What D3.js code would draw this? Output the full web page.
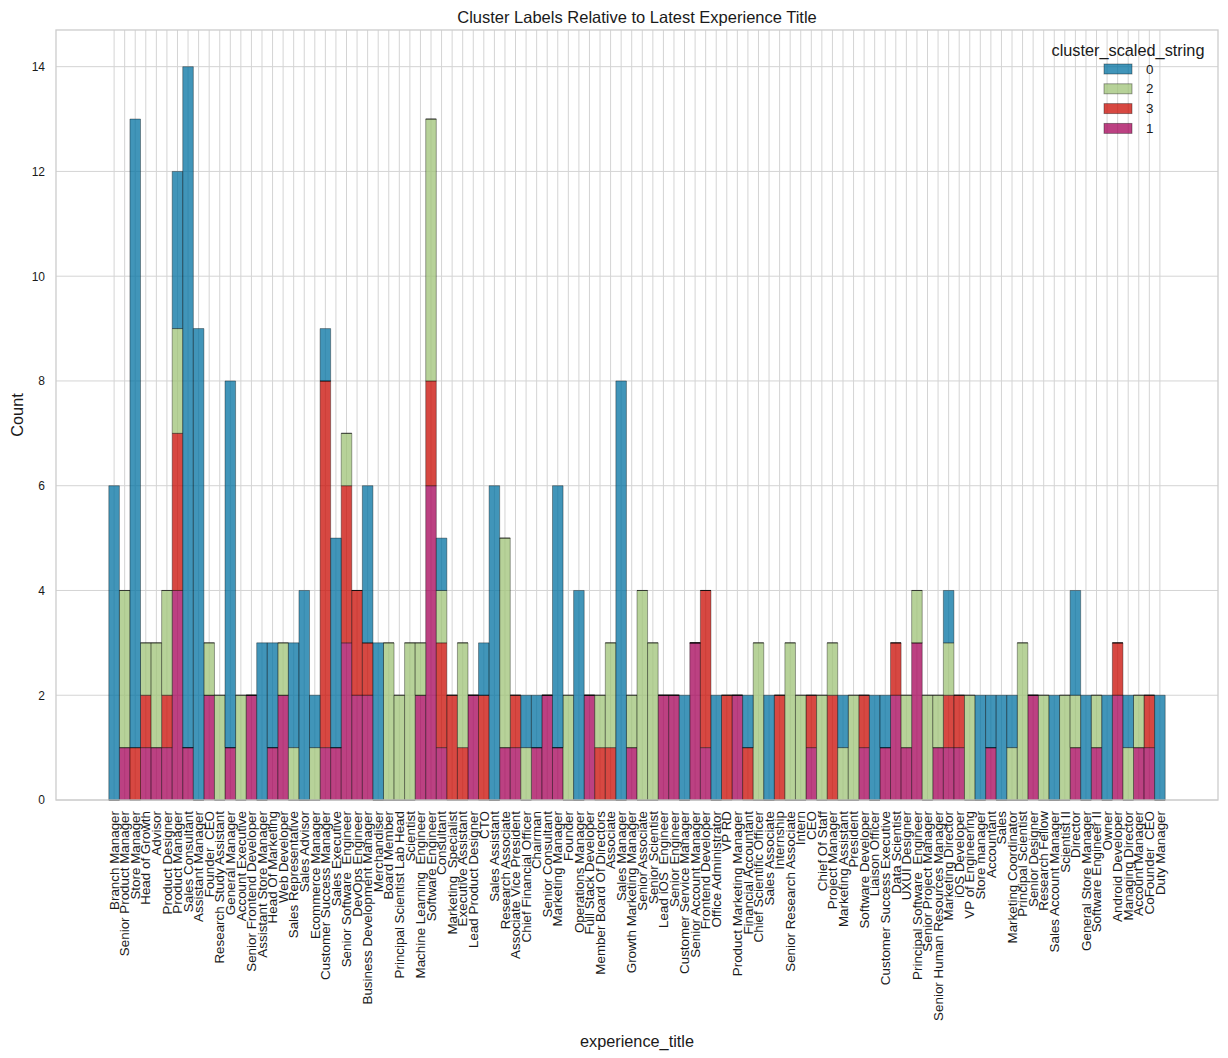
<!DOCTYPE html>
<html>
<head>
<meta charset="utf-8">
<script src="https://cdn.jsdelivr.net/npm/d3@7/dist/d3.min.js"></script>
<style>
  html, body { margin: 0; padding: 0; background: #fff; }
  text { font-family: "Liberation Sans", Arial, Helvetica, sans-serif; fill: #1a1a1a; white-space: pre; }
</style>
</head>
<body>
<svg id="chart" width="1228" height="1058"></svg>
<script>
const categories = [
  "Branch Manager","Senior Product Manager","Store Manager","Head of Growth","Advisor",
  "Product Designer","Product Manager","Sales Consultant","Assistant Manager","Founder  CEO",
  "Research Study Assistant","General Manager","Account Executive","Senior Frontend Developer","Assistant Store Manager",
  "Head Of Marketing","Web Developer","Sales Representative","Sales Advisor","Ecommerce Manager",
  "Customer Success Manager","Sales Executive","Senior Software  Engineer","DevOps Engineer","Business Development Manager",
  "Merchandiser","Board Member","Principal Scientist Lab Head","Scientist","Machine Learning  Engineer",
  "Software Engineer","Consultant","Marketing  Specialist","Executive Assistant","Lead Product Designer",
  "CTO","Sales Assistant","Research Associate","Associate Vice President","Chief Financial Officer",
  "Chairman","Senior Consultant","Marketing Manager","Founder","Operations Manager",
  "Full Stack Developer","Member Board Of Directors","Associate","Sales Manager","Growth Marketing Manager",
  "Senior Associate","Senior Scientist","Lead iOS  Engineer","Senior Engineer","Customer Service Manager",
  "Senior Account Manager","Frontend Developer","Office Administrator","VP RD","Product Marketing Manager",
  "Financial Accountant","Chief Scientific Officer","Sales Associate","Internship","Senior Research Associate",
  "Intern","CEO","Chief Of Staff","Project Manager","Marketing Assistant",
  "President","Software Developer","Liaison Officer","Customer Success Executive","Data Scientist",
  "UXUI Designer","Principal Software  Engineer","Senior Project Manager","Senior Human Resources Manager","Marketing Director",
  "iOS Developer","VP of Engineering","Store manager","Accountant","Sales",
  "Marketing Coordinator","Principal Scientist","Senior Designer","Research Fellow","Sales Account Manager",
  "Scientist II","Director","General Store Manager","Software Engineer II","Owner",
  "Android Developer","Managing Director","Account Manager","CoFounder  CEO","Duty Manager"
];

// counts per cluster (hue), one value per category
const cluster1 = [0,1,0,1,1, 1,4,1,0,2, 0,1,0,2,0, 1,2,0,0,0, 1,1,3,2,2, 0,0,0,0,2,
                  6,1,0,0,2, 0,0,1,1,0, 1,2,1,0,0, 2,0,0,0,1, 0,0,2,2,0, 3,1,0,0,2,
                  0,0,0,0,0, 0,1,0,0,0, 0,1,0,1,2, 1,3,0,1,1, 1,0,0,1,0, 0,0,2,0,0,
                  0,1,0,1,0, 2,0,1,1,0];
const cluster3 = [0,0,1,1,0, 1,3,0,0,0, 0,0,0,0,0, 0,0,0,0,0, 7,0,3,2,1, 0,0,0,0,0,
                  2,2,2,1,0, 2,0,0,1,0, 0,0,0,0,0, 0,1,1,0,0, 0,0,0,0,0, 0,3,0,2,0,
                  1,0,0,2,0, 0,1,0,2,0, 0,1,0,0,1, 0,0,0,0,1, 1,0,0,0,0, 0,0,0,0,0,
                  0,0,0,0,0, 1,0,0,1,0];
const cluster2 = [0,3,0,1,2, 2,2,0,0,1, 2,0,2,0,0, 0,1,1,0,1, 0,0,1,0,0, 0,3,2,3,1,
                  5,1,0,2,0, 0,0,4,0,1, 0,0,0,2,0, 0,1,2,0,1, 4,3,0,0,0, 0,0,0,0,0,
                  0,3,0,0,3, 2,0,2,1,1, 2,0,0,0,0, 1,1,2,1,1, 0,2,0,0,0, 1,3,0,2,0,
                  2,1,0,1,0, 0,1,1,0,0];
const cluster0 = [6,0,12,0,0, 0,3,13,9,0, 0,7,0,0,3, 2,0,2,4,1, 1,4,0,0,3, 3,0,0,0,0,
                  0,1,0,0,0, 1,6,0,0,1, 1,0,5,0,4, 0,0,0,8,0, 0,0,0,0,2, 0,0,2,0,0,
                  1,0,2,0,0, 0,0,0,0,1, 0,0,2,1,0, 0,0,0,0,1, 0,0,2,1,2, 1,0,0,0,2,
                  0,2,2,0,2, 0,1,0,0,2];

const legendOrder = ["0", "2", "3", "1"];
const stackOrder = ["1", "3", "2", "0"];   // bottom to top
const seriesValues = { "0": cluster0, "2": cluster2, "3": cluster3, "1": cluster1 };
const yTicks = [0, 2, 4, 6, 8, 10, 12, 14];

const colors = { "0": "#0272a2", "2": "#9fc377", "3": "#ca0b03", "1": "#a50258" };

const svg = d3.select("#chart");
const pLeft = 56, pRight = 1218, pTop = 30, pBottom = 800;

const x = d3.scaleBand().domain(categories).range([pLeft, pRight]).paddingInner(0).paddingOuter(5);
const y = d3.scaleLinear().domain([0, 14.7]).range([pBottom, pTop]);

// grid
const grid = svg.append("g");
grid.selectAll("line.v").data(categories).join("line")
  .attr("x1", d => x(d) + x.bandwidth() / 2).attr("x2", d => x(d) + x.bandwidth() / 2)
  .attr("y1", pTop).attr("y2", pBottom)
  .attr("stroke", "#d4d4d4").attr("stroke-width", 1);
grid.selectAll("line.h").data(yTicks).join("line")
  .attr("x1", pLeft).attr("x2", pRight)
  .attr("y1", d => y(d)).attr("y2", d => y(d))
  .attr("stroke", "#d4d4d4").attr("stroke-width", 1);

// stacked data
const rows = categories.map((c, i) => {
  const r = { cat: c };
  legendOrder.forEach(k => r[k] = seriesValues[k][i]);
  return r;
});
const stacked = d3.stack().keys(stackOrder)(rows);

const barsG = svg.append("g");
stacked.forEach(layer => {
  const key = layer.key;
  barsG.append("g").selectAll("path").data(layer).join("path")
    .attr("d", d => {
      const x0 = x(d.data.cat), w = x.bandwidth();
      const y0 = y(d[0]), y1 = y(d[1]);
      return `M${x0},${y0}V${y1}H${x0 + w}V${y0}Z`;
    })
    .attr("fill", colors[key]).attr("fill-opacity", 0.75)
    .attr("stroke", "#000").attr("stroke-opacity", 0.4).attr("stroke-width", 0.9);
});

// frame
svg.append("rect").attr("x", pLeft).attr("y", pTop).attr("width", pRight - pLeft).attr("height", pBottom - pTop)
  .attr("fill", "none").attr("stroke", "#cccccc").attr("stroke-width", 1.3);

// y axis
const yAxis = svg.append("g").attr("transform", `translate(${pLeft},0)`)
  .call(d3.axisLeft(y).tickValues(yTicks).tickSize(0).tickPadding(11));
yAxis.select(".domain").remove();
yAxis.selectAll("text").style("font-size", "12px").attr("fill", "#1a1a1a")
  .style("font-family", '"Liberation Sans", Arial, sans-serif');

// x axis
const xAxis = svg.append("g").attr("transform", `translate(0,${pBottom})`)
  .call(d3.axisBottom(x).tickSize(0).tickPadding(0));
xAxis.select(".domain").remove();
xAxis.selectAll("text")
  .style("font-size", "13.4px").attr("fill", "#1a1a1a")
  .style("font-family", '"Liberation Sans", Arial, sans-serif')
  .attr("transform", "rotate(-90)")
  .attr("text-anchor", "end")
  .attr("x", -11).attr("y", 0).attr("dy", "0.35em");

// title and labels
svg.append("text").attr("x", 637).attr("y", 23).attr("text-anchor", "middle")
  .style("font-size", "16.5px").text("Cluster Labels Relative to Latest Experience Title");
svg.append("text").attr("x", 637).attr("y", 1047).attr("text-anchor", "middle")
  .style("font-size", "16.3px").text("experience_title");
svg.append("text").attr("transform", `translate(23,${(pTop + pBottom) / 2}) rotate(-90)`)
  .attr("text-anchor", "middle").style("font-size", "16.3px").text("Count");

// legend
const lg = svg.append("g");
lg.append("text").attr("x", 1128).attr("y", 56).attr("text-anchor", "middle")
  .style("font-size", "16.3px").text("cluster_scaled_string");
legendOrder.forEach((k, i) => {
  const cy = 69 + i * 19.8;
  lg.append("rect").attr("x", 1104).attr("y", cy - 5).attr("width", 28).attr("height", 10)
    .attr("fill", colors[k]).attr("fill-opacity", 0.75)
    .attr("stroke", "#000").attr("stroke-opacity", 0.4).attr("stroke-width", 0.9);
  lg.append("text").attr("x", 1146).attr("y", cy).attr("dy", "0.35em")
    .style("font-size", "13.4px").text(k);
});
</script>
</body>
</html>
